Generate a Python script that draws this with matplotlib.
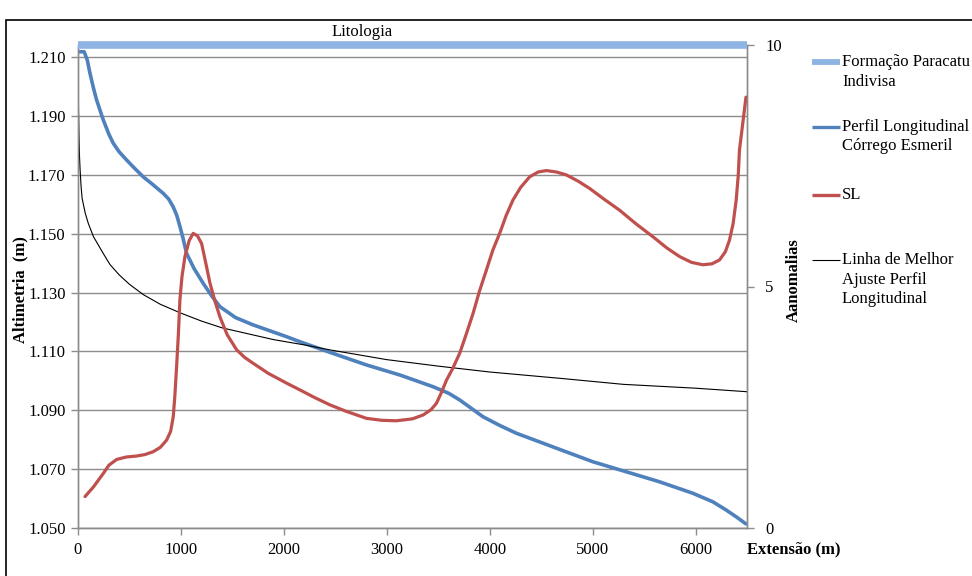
import matplotlib
matplotlib.use("Agg")
import matplotlib.pyplot as plt
from matplotlib.lines import Line2D
from matplotlib.patches import Rectangle

# ---------------- data ----------------
perfil_x = [0, 60, 90, 117, 150, 181, 246, 300, 343, 400, 473, 550, 634, 730, 828, 880,
            925, 960, 990, 1020, 1055, 1130, 1217, 1300, 1379, 1530, 1702, 2026, 2155, 2479,
            2803, 3126, 3450, 3600, 3709, 3820, 3935, 4100, 4259, 4680, 5003, 5327, 5650,
            5974, 6168, 6298, 6395, 6490]
perfil_y = [1211.8, 1211.8, 1209.0, 1204.4, 1199.5, 1195.4, 1188.6, 1183.8, 1180.7, 1177.8,
            1175.0, 1172.2, 1169.3, 1166.6, 1163.7, 1161.8, 1159.1, 1156.2, 1152.5, 1148.5,
            1143.3, 1138.0, 1133.1, 1128.8, 1125.2, 1121.5, 1119.0, 1115.0, 1113.3, 1109.3,
            1105.4, 1102.0, 1098.0, 1095.8, 1093.5, 1090.7, 1087.8, 1084.8, 1082.2, 1076.7,
            1072.5, 1069.1, 1065.7, 1061.8, 1058.9, 1056.1, 1053.8, 1051.4]

ajuste_x = [0, 2, 5, 10, 15, 20, 30, 40, 55, 70, 100, 150, 200, 250, 311, 400, 500, 634,
            800, 1000, 1200, 1400, 1650, 1900, 2200, 2450, 3000, 3500, 4000, 4700, 5300,
            6000, 6500]
ajuste_y = [1214, 1205, 1192, 1182, 1176, 1172, 1166, 1162, 1159.5, 1157, 1153.5, 1149,
            1146, 1143, 1139.5, 1136, 1132.8, 1129.3, 1126, 1123, 1120.3, 1118, 1116,
            1114, 1112.2, 1110.5, 1107.2, 1105, 1103, 1100.8, 1098.8, 1097.5, 1096.3]

sl_x = [68, 150, 246, 300, 376, 470, 570, 650, 731, 800, 861, 900, 925, 940, 958, 975, 990,
        1010, 1039, 1080, 1119, 1160, 1201, 1240, 1282, 1330, 1379, 1450, 1541, 1620, 1702,
        1850, 2026, 2155, 2300, 2447, 2600, 2803, 2950, 3094, 3250, 3353, 3430, 3482, 3530,
        3580, 3640, 3709, 3770, 3838, 3900, 3968, 4030, 4097, 4160, 4226, 4300, 4388, 4470,
        4550, 4650, 4745, 4860, 4971, 5110, 5262, 5420, 5586, 5720, 5845, 5960, 6071, 6160,
        6233, 6290, 6330, 6365, 6395, 6415, 6427, 6460, 6490]
sl_y = [0.65, 0.85, 1.13, 1.30, 1.42, 1.47, 1.49, 1.52, 1.58, 1.67, 1.82, 2.00, 2.30, 2.70,
        3.34, 4.00, 4.72, 5.20, 5.62, 5.95, 6.10, 6.05, 5.89, 5.50, 5.07, 4.70, 4.37, 4.00,
        3.69, 3.53, 3.41, 3.20, 3.00, 2.86, 2.70, 2.55, 2.42, 2.27, 2.23, 2.22, 2.26, 2.34,
        2.45, 2.58, 2.80, 3.06, 3.30, 3.62, 4.00, 4.44, 4.90, 5.34, 5.75, 6.10, 6.47, 6.79,
        7.05, 7.27, 7.37, 7.40, 7.37, 7.31, 7.18, 7.03, 6.81, 6.58, 6.30, 6.03, 5.80, 5.62,
        5.50, 5.45, 5.47, 5.55, 5.72, 5.96, 6.30, 6.79, 7.30, 7.83, 8.40, 8.92]

litologia_x = [0, 6500]
litologia_y = [10, 10]

x_ticks = [0, 1000, 2000, 3000, 4000, 5000, 6000]
left_ticks = [1050, 1070, 1090, 1110, 1130, 1150, 1170, 1190, 1210]
right_ticks = [0, 5, 10]

legend_labels = [["Formação Paracatu", "Indivisa"],
                 ["Perfil Longitudinal", "Córrego Esmeril"],
                 ["SL"],
                 ["Linha de Melhor", "Ajuste Perfil", "Longitudinal"]]

# ---------------- style ----------------
FONT = "Liberation Serif"
FS = 12
plt.rcParams['font.family'] = [FONT, 'DejaVu Serif']
C_LITO = "#8DB4E2"
C_BLUE = "#4F81BD"
C_RED = "#C0504D"
C_GRID = "#8C8C8C"

W, H = 972, 576
fig = plt.figure(figsize=(W / 100, H / 100), dpi=100)
fig.patch.set_facecolor("white")

def fx(px):
    return px / W

def fy(py):
    return 1 - py / H

L, R, T, B = 78, 747, 45, 528
ax = fig.add_axes([fx(L), fy(B), fx(R - L), (B - T) / H])
ax2 = ax.twinx()

ax.set_xlim(0, 6500)
ax.set_ylim(1050, 1214.1)
ax2.set_ylim(0, 10)

ax.set_yticks(left_ticks)
ax.set_yticklabels([f"{v/1000:.3f}" for v in left_ticks])
ax.set_xticks(x_ticks)
ax.set_xticklabels([str(v) for v in x_ticks])
ax2.set_yticks(right_ticks)
ax2.set_yticklabels([str(v) for v in right_ticks])

ax.grid(axis='y', color=C_GRID, lw=1.0)
ax.set_axisbelow(True)

for a in (ax, ax2):
    a.spines['top'].set_visible(False)
    for s in ('left', 'bottom', 'right'):
        a.spines[s].set_color(C_GRID)
        a.spines[s].set_linewidth(1.0)
    a.tick_params(colors=C_GRID, labelcolor='black', labelsize=FS, length=5, width=1)

ax.tick_params(axis='y', pad=4)
ax.tick_params(axis='x', pad=5)
ax2.tick_params(axis='y', pad=8)

# series
ax.plot(perfil_x, perfil_y, color=C_BLUE, lw=2.6, solid_capstyle='round',
        solid_joinstyle='round', zorder=3)
ax.plot(ajuste_x, ajuste_y, color='black', lw=0.8, zorder=4, clip_on=True)
ax2.plot(sl_x, sl_y, color=C_RED, lw=2.3, solid_capstyle='round',
         solid_joinstyle='round', zorder=3)
ax2.plot(litologia_x, litologia_y, color=C_LITO, lw=5.5, solid_capstyle='butt',
         zorder=5, clip_on=False)

# axis titles
fig.text(fx(362), fy(32), "Litologia", ha='center', va='center', fontsize=FS)
fig.text(fx(20), fy(290), "Altimetria  (m)", ha='center', va='center', rotation=90,
         fontsize=FS, fontweight='bold')
fig.text(fx(794), fy(280), "Aanomalias", ha='center', va='center', rotation=90,
         fontsize=FS, fontweight='bold')
fig.text(fx(794), fy(549), "Extensão (m)", ha='center', va='center',
         fontsize=FS, fontweight='bold')

# legend (manual)
leg_styles = [(C_LITO, 4.2), (C_BLUE, 2.4), (C_RED, 2.4), ('black', 0.8)]
leg_y = [62, 127, 195, 260]
for (col, lw), y0, lines in zip(leg_styles, leg_y, legend_labels):
    fig.add_artist(Line2D([fx(812), fx(840)], [fy(y0), fy(y0)], color=col, lw=lw,
                          transform=fig.transFigure, solid_capstyle='butt'))
    for i, t in enumerate(lines):
        fig.text(fx(842), fy(y0 + i * 19.5), t, ha='left', va='center', fontsize=FS)

# outer frame
fig.add_artist(Rectangle((fx(6), fy(580)), fx(W + 10), (580 - 20) / H, fill=False,
                         edgecolor='black', lw=1.2, transform=fig.transFigure))

fig.savefig("out.png", dpi=100)
